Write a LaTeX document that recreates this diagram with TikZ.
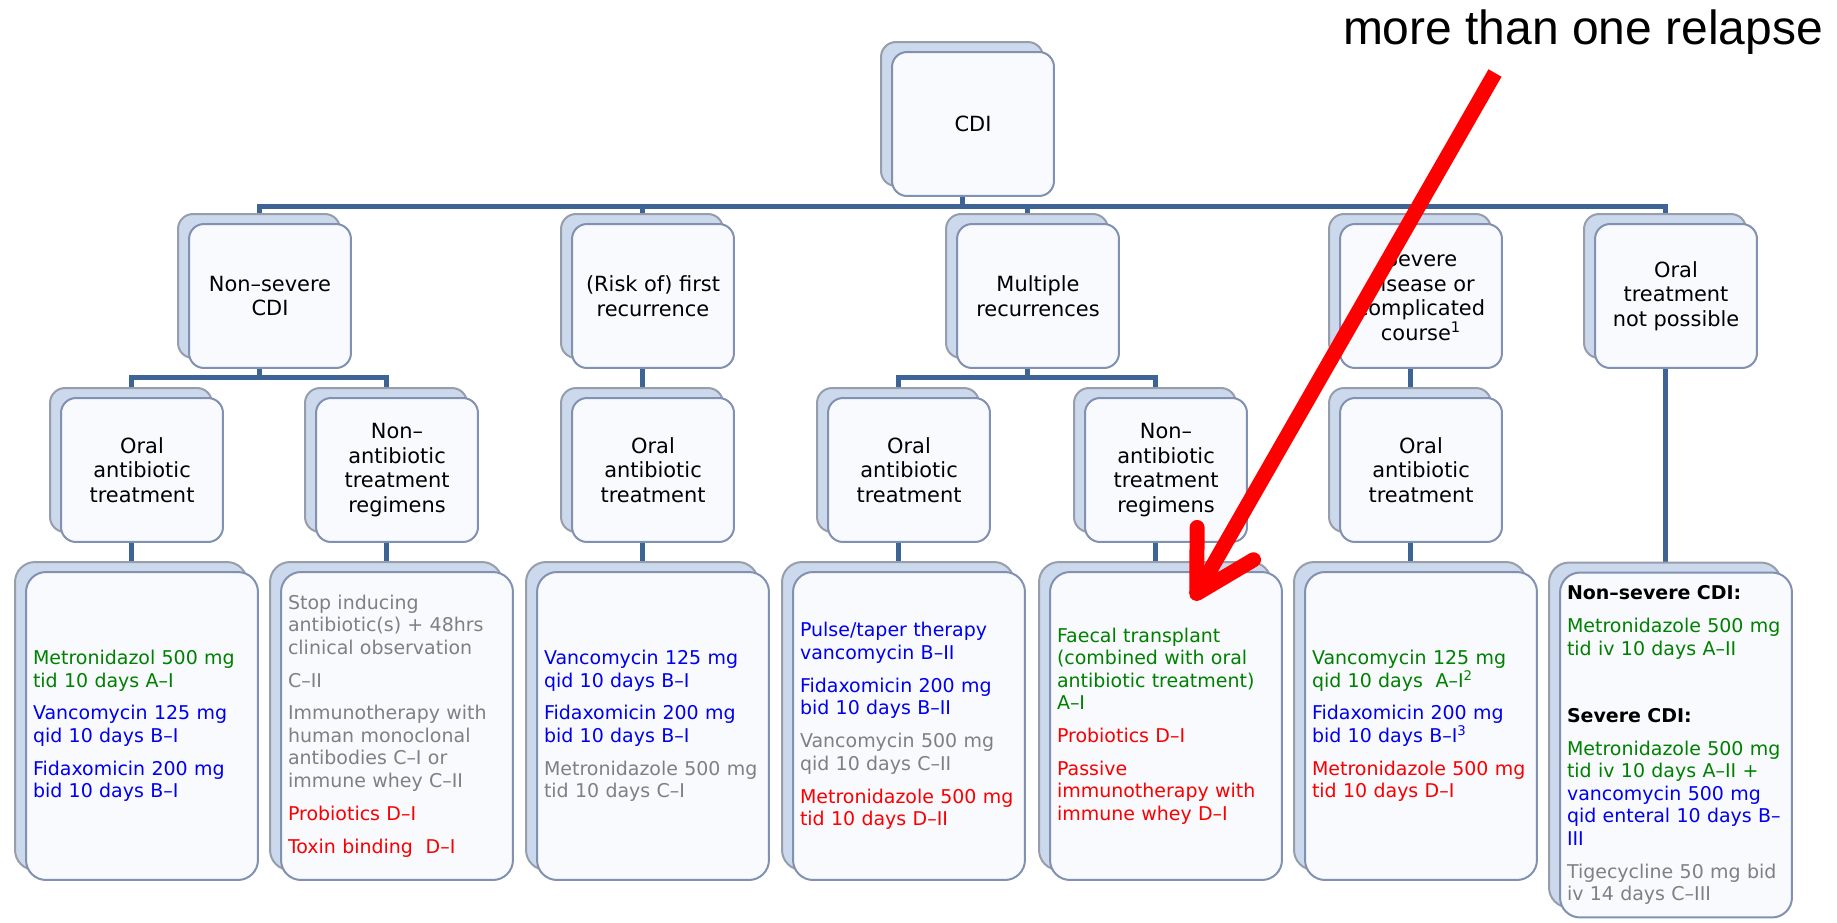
\documentclass[tikz,border=0pt]{standalone}
\usepackage{fontspec}
\setmainfont{DejaVu Sans}
\newfontfamily\arialfont{Liberation Sans}
\usepackage{tikz}
\usetikzlibrary{shadows,backgrounds,arrows.meta}
\definecolor{linkblue}{RGB}{62,100,150}
\definecolor{boxedge}{RGB}{128,145,178}
\definecolor{boxfill}{RGB}{248,250,253}
\definecolor{backfill}{RGB}{204,216,236}
\definecolor{backedge}{RGB}{150,158,172}
\definecolor{gradeA}{RGB}{0,128,0}
\definecolor{gradeB}{RGB}{0,0,240}
\definecolor{gradeC}{RGB}{128,128,128}
\definecolor{gradeD}{RGB}{250,0,0}

\begin{document}
\begin{tikzpicture}
[x=0.02cm, y=-0.02cm,
 box/.style={rounded corners=0.3cm, draw=boxedge, line width=0.04cm, fill=boxfill,
   copy shadow={shadow xshift=-0.22cm, shadow yshift=0.2cm, fill=backfill, draw=backedge}},
 level/.style={box, minimum width=3.24cm, minimum height=2.88cm, inner sep=0pt, align=center,
   font=\fontsize{11.9}{13.9}\selectfont},
 list/.style={box, rounded corners=0.4cm, text width=4.36cm, inner xsep=0.14cm, inner ysep=0pt,
   align=left, minimum height=6.16cm, font=\fontsize{10.8}{12.8}\selectfont},
 link/.style={draw=linkblue, line width=0.1cm},
 sh/.style={xshift=-0.22cm},
 redarrow/.style={draw=red, line width=0.3cm, -{Straight Barb[length=1.15cm, width=1.3cm, round]}}]
    \useasboundingbox (0,0) rectangle (1837,923);

    \node[level] (cdi) at (973,124) {CDI};

    \node[level] (nsev)  at (270,296)  {Non–severe\\CDI};
    \node[level] (first) at (653,296)  {(Risk of) first\\recurrence};
    \node[level] (mult)  at (1038,296) {Multiple\\recurrences};
    \node[level] (sev)   at (1421,296) {Severe\\disease or\\complicated\\course\textsuperscript{1}};
    \node[level] (noral) at (1676,296) {Oral\\treatment\\not possible};

    \node[level] (o1) at (142,470)  {Oral\\antibiotic\\treatment};
    \node[level] (n1) at (397,470)  {Non–\\antibiotic\\treatment\\regimens};
    \node[level] (o2) at (653,470)  {Oral\\antibiotic\\treatment};
    \node[level] (o3) at (909,470)  {Oral\\antibiotic\\treatment};
    \node[level] (n2) at (1166,470) {Non–\\antibiotic\\treatment\\regimens};
    \node[level] (o4) at (1421,470) {Oral\\antibiotic\\treatment};

    \node[list] (l1) at (142,726) {\textcolor{gradeA}{Metronidazol 500 mg\\tid 10 days A–I}\\[0.21cm]
        \textcolor{gradeB}{Vancomycin 125 mg\\qid 10 days B–I}\\[0.21cm]
        \textcolor{gradeB}{Fidaxomicin 200 mg\\bid 10 days B–I}};
    \node[list] (l2) at (397,726) {\textcolor{gradeC}{Stop inducing\\antibiotic(s) + 48hrs\\clinical observation}\\[0.21cm]
        \textcolor{gradeC}{C–II}\\[0.21cm]
        \textcolor{gradeC}{Immunotherapy with\\human monoclonal\\antibodies C–I or\\immune whey C–II}\\[0.21cm]
        \textcolor{gradeD}{Probiotics D–I}\\[0.21cm]
        \textcolor{gradeD}{Toxin binding\ \ D–I}};
    \node[list] (l3) at (653,726) {\textcolor{gradeB}{Vancomycin 125 mg\\qid 10 days B–I}\\[0.21cm]
        \textcolor{gradeB}{Fidaxomicin 200 mg\\bid 10 days B–I}\\[0.21cm]
        \textcolor{gradeC}{Metronidazole 500 mg\\tid 10 days C–I}};
    \node[list] (l4) at (909,726) {\textcolor{gradeB}{Pulse/taper therapy\\vancomycin B–II}\\[0.21cm]
        \textcolor{gradeB}{Fidaxomicin 200 mg\\bid 10 days B–II}\\[0.21cm]
        \textcolor{gradeC}{Vancomycin 500 mg\\qid 10 days C–II}\\[0.21cm]
        \textcolor{gradeD}{Metronidazole 500 mg\\tid 10 days D–II}};
    \node[list] (l5) at (1166,726) {\textcolor{gradeA}{Faecal transplant\\(combined with oral\\antibiotic treatment)\\A–I}\\[0.21cm]
        \textcolor{gradeD}{Probiotics D–I}\\[0.21cm]
        \textcolor{gradeD}{Passive\\immunotherapy with\\immune whey D–I}};
    \node[list] (l6) at (1421,726) {\textcolor{gradeA}{Vancomycin 125 mg\\qid 10 days\ \ A–I\textsuperscript{2}}\\[0.21cm]
        \textcolor{gradeB}{Fidaxomicin 200 mg\\bid 10 days B–I\textsuperscript{3}}\\[0.21cm]
        \textcolor{gradeD}{Metronidazole 500 mg\\tid 10 days D–I}};
    \node[list, minimum height=6.9cm] (l7) at (1676,745) {\textbf{Non–severe CDI:}\\[0.21cm]
        \textcolor{gradeA}{Metronidazole 500 mg\\tid iv 10 days A–II}\\[0.89cm]
        \textbf{Severe CDI:}\\[0.21cm]
        \textcolor{gradeA}{Metronidazole 500 mg\\tid iv 10 days A–II +}\\
        \textcolor{gradeB}{vancomycin 500 mg\\qid enteral 10 days B–\\III}\\[0.21cm]
        \textcolor{gradeC}{Tigecycline 50 mg bid\\iv 14 days C–III}};

    \begin{scope}[on background layer]
        \foreach \c in {nsev,first,mult,sev,noral}
            \draw[link] ([sh]cdi.south) -- ++(0,10) -| ([sh]\c.north);
        \foreach \c in {o1,n1}
            \draw[link] ([sh]nsev.south) -- ++(0,9) -| ([sh]\c.north);
        \foreach \c in {o3,n2}
            \draw[link] ([sh]mult.south) -- ++(0,9) -| ([sh]\c.north);
        \draw[link] ([sh]first.south) -- ([sh]o2.north);
        \draw[link] ([sh]sev.south) -- ([sh]o4.north);
        \draw[link] ([sh]noral.south) -- ([sh]l7.north);
        \foreach \a/\b in {o1/l1,n1/l2,o2/l3,o3/l4,n2/l5,o4/l6}
            \draw[link] ([sh]\a.south) -- ([sh]\b.north);
    \end{scope}

    \node[font=\arialfont\fontsize{27.3}{32}\selectfont, anchor=base] (relapse) at (1583,44) {more than one relapse};
    \coordinate (from) at (1495,73);
    \coordinate (to) at (1193,600);
    \draw[redarrow] (from) -- (to);
\end{tikzpicture}
\end{document}
